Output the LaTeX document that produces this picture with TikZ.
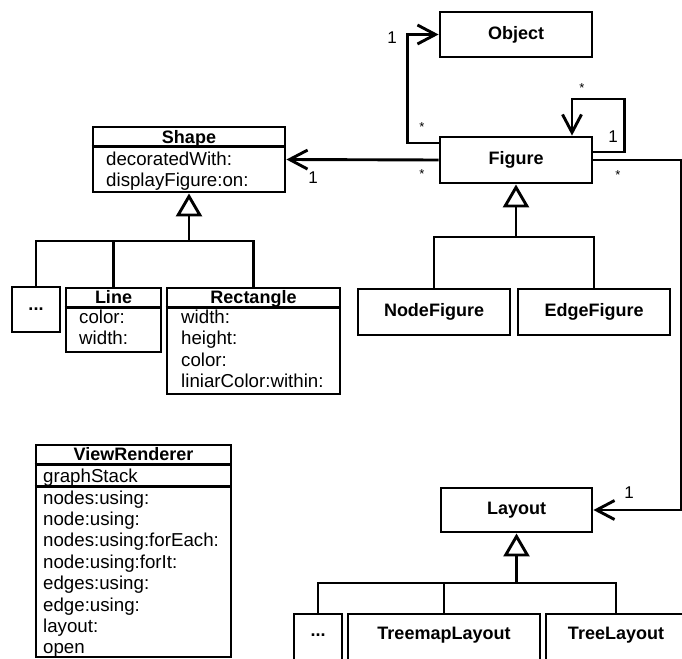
\documentclass[tikz,border=0pt]{standalone}
\usepackage{fontspec}
\setmainfont{Liberation Sans}
\usetikzlibrary{arrows.meta}
\begin{document}
\begin{tikzpicture}[x=1pt,y=-1pt,
  lw/.style={line width=2.9pt},
  box/.style={draw,lw,rectangle,inner sep=0pt,font=\fontsize{18}{21}\selectfont\bfseries},
  ttl/.style={inner sep=0pt,anchor=base,font=\fontsize{18}{21}\selectfont\bfseries},
  attr/.style={inner sep=0pt,anchor=base west,font=\fontsize{18.7}{21}\selectfont},
  mult/.style={inner sep=0pt,font=\fontsize{17}{18}\selectfont},
  star/.style={inner sep=0pt,font=\fontsize{13}{14}\selectfont},
  assoc/.style={draw,lw,-{Straight Barb[length=18pt,width=19pt,line width=2.9pt]}},
  inh/.style={draw,lw,-{Triangle[length=23pt,width=26pt,fill=white,line width=2.9pt]}},
  tree/.style={draw,lw}]
\useasboundingbox (0,0) rectangle (682,658);
\clip (0,0) rectangle (682,658);

% simple boxes
\node[box,minimum width=152pt,minimum height=45pt] (obj) at (516,34.5) {Object};
\node[box,minimum width=152pt,minimum height=46pt] (fig) at (516,160) {Figure};
\node[box,minimum width=152pt,minimum height=46pt] (nodefig) at (434,312) {NodeFigure};
\node[box,minimum width=152pt,minimum height=46pt] (edgefig) at (594,312) {EdgeFigure};
\node[box,minimum width=151pt,minimum height=44pt] (layout) at (516.5,510) {Layout};
\node[box,minimum width=48pt,minimum height=45pt] (dots1) at (36,309.5) {...};
\node[box,minimum width=48pt,minimum height=56pt] (dots2) at (318,642) {};
\node[box,minimum width=192pt,minimum height=56pt] (treemap) at (444,642) {};
\node[box,minimum width=140pt,minimum height=56pt] (treel) at (616,642) {};
\node[ttl,anchor=center] (dots2t) at (318,635) {...};
\node[ttl,anchor=center] (treemapt) at (444,635) {TreemapLayout};
\node[ttl,anchor=center] (treelt) at (616,635) {TreeLayout};

% Shape
\node[box,minimum width=192pt,minimum height=65pt] (shape) at (189,159.5) {};
\draw[lw] ([yshift=-21pt]shape.north west) -- ([yshift=-21pt]shape.north east);
\node[ttl] (shapet) at (189,143) {Shape};
\node[attr] (sa1) at (106,165) {decoratedWith:};
\node[attr] (sa2) at (106,186.5) {displayFigure:on:};

% Line
\node[box,minimum width=95pt,minimum height=64pt] (line) at (113.5,320) {};
\draw[lw] ([yshift=-21pt]line.north west) -- ([yshift=-21pt]line.north east);
\node[ttl] (linet) at (113.5,303) {Line};
\node[attr] (la1) at (79,323) {color:};
\node[attr] (la2) at (79,344.5) {width:};

% Rectangle
\node[box,minimum width=173pt,minimum height=106pt] (rect) at (253.5,341) {};
\draw[lw] ([yshift=-21pt]rect.north west) -- ([yshift=-21pt]rect.north east);
\node[ttl] (rectt) at (253.5,303) {Rectangle};
\node[attr] (ra1) at (181,323) {width:};
\node[attr] (ra2) at (181,344.5) {height:};
\node[attr] (ra3) at (181,366) {color:};
\node[attr] (ra4) at (181,387.5) {liniarColor:within:};

% ViewRenderer
\node[box,minimum width=195pt,minimum height=212pt] (vr) at (133.5,551) {};
\draw[lw] ([yshift=-21pt]vr.north west) -- ([yshift=-21pt]vr.north east);
\draw[lw] ([yshift=-43pt]vr.north west) -- ([yshift=-43pt]vr.north east);
\node[ttl] (vrt) at (133.5,460) {ViewRenderer};
\node[attr] (v1) at (43,482) {graphStack};
\node[attr] (v2) at (43,504) {nodes:using:};
\node[attr] (v3) at (43,525.4) {node:using:};
\node[attr] (v4) at (43,546.8) {nodes:using:forEach:};
\node[attr] (v5) at (43,568.2) {node:using:forIt:};
\node[attr] (v6) at (43,589.6) {edges:using:};
\node[attr] (v7) at (43,611) {edge:using:};
\node[attr] (v8) at (43,632.4) {layout:};
\node[attr] (v9) at (43,653.8) {open};

% associations
\draw[assoc] ([yshift=17pt]fig.west) -- ++(-31pt,0) |- (obj.west);
\draw[assoc] (fig.west) -- (shape.east);
\draw[assoc] ([yshift=8pt]fig.east) -- ++(31pt,0) -- ++(0,53pt) -| ([xshift=56pt]fig.north);
\draw[assoc] (fig.east) -- ++(88pt,0) |- (layout.east);

% multiplicities
\node[mult] (m1) at (392,38) {1};
\node[star] (m2) at (422,127) {*};
\node[star] (m3) at (422,174) {*};
\node[mult] (m4) at (313,178) {1};
\node[star] (m5) at (582,88) {*};
\node[mult] (m6) at (613,137) {1};
\node[star] (m7) at (618,175) {*};
\node[mult] (m8) at (629,493) {1};

% inheritance
\coordinate (sj) at (189,241);
\draw[inh] (sj) -- (shape.south);
\draw[tree] (dots1.north) |- (sj);
\draw[tree] (line.north) |- (sj);
\draw[tree] (rect.north) |- (sj);

\coordinate (fj) at (516,237);
\draw[inh] (fj) -- (fig.south);
\draw[tree] (nodefig.north) |- (fj);
\draw[tree] (edgefig.north) |- (fj);

\coordinate (lj) at (516.5,583);
\draw[inh] (lj) -- (layout.south);
\draw[tree] (dots2.north) |- (lj);
\draw[tree] (treemap.north) |- (lj);
\draw[tree] (treel.north) |- (lj);
\end{tikzpicture}
\end{document}
